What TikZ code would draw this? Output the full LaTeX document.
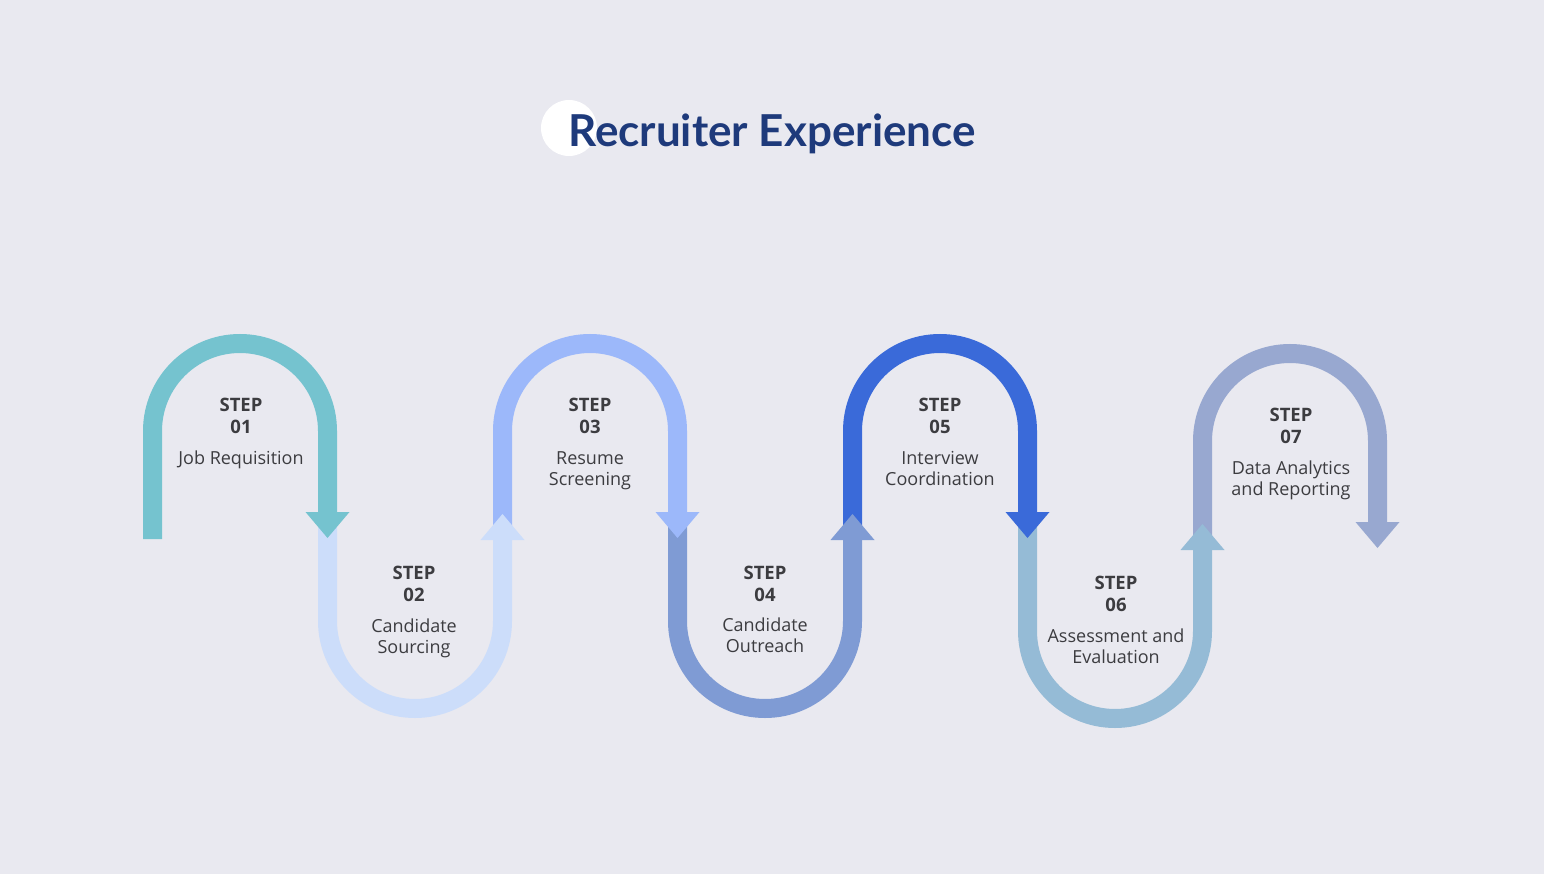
\documentclass[tikz,border=0pt]{standalone}
\usepackage{fontspec}
\setmainfont{Open Sans}
\newfontfamily\titlefont{Lato}
\definecolor{bg}{HTML}{E9E9F0}
\definecolor{titlecol}{HTML}{1E3A7B}
\definecolor{txt}{HTML}{3C3C40}
\definecolor{cA}{HTML}{75C3CF}
\definecolor{cB}{HTML}{CCDDFA}
\definecolor{cC}{HTML}{9CB8FA}
\definecolor{cD}{HTML}{7F9BD4}
\definecolor{cE}{HTML}{3A6AD9}
\definecolor{cF}{HTML}{95BBD6}
\definecolor{cG}{HTML}{98A8D0}
\tikzset{
  band/.style={line width=19pt, line cap=butt},
  steplabel/.style={text=txt, align=center, font=\fontsize{18.5}{21.5}\selectfont\bfseries, inner sep=0pt},
  desclabel/.style={text=txt, align=center, font=\fontsize{18}{21}\selectfont, inner sep=0pt},
}
\begin{document}
\begin{tikzpicture}[x=1pt,y=1pt]
\path[use as bounding box, fill=bg] (0,0) rectangle (1544,-874);
% title
\fill[white] (569,-128) circle[radius=28];
\node[text=titlecol, font=\titlefont\fontsize{44}{52}\selectfont\bfseries, anchor=base, inner sep=0pt] (title) at (772,-147) {Recruiter Experience};
% bands
\draw[band, cA] (152.5,-539) -- (152.5,-431) arc[start angle=180,end angle=0,radius=87.5] -- (327.5,-512);
\draw[band, cB] (327.5,-525) -- (327.5,-621) arc[start angle=180,end angle=360,radius=87.5] -- (502.5,-540);
\draw[band, cC] (502.5,-527) -- (502.5,-431) arc[start angle=180,end angle=0,radius=87.5] -- (677.5,-512);
\draw[band, cD] (677.5,-525) -- (677.5,-621) arc[start angle=180,end angle=360,radius=87.5] -- (852.5,-540);
\draw[band, cE] (852.5,-527) -- (852.5,-431) arc[start angle=180,end angle=0,radius=87.5] -- (1027.5,-512);
\draw[band, cF] (1027.5,-525) -- (1027.5,-631) arc[start angle=180,end angle=360,radius=87.5] -- (1202.5,-550);
\draw[band, cG] (1202.5,-537) -- (1202.5,-441) arc[start angle=180,end angle=0,radius=87.5] -- (1377.5,-522);
% arrow heads
\fill[cA] (305.5,-512) -- (349.5,-512) -- (327.5,-538) -- cycle;
\fill[cB] (480.5,-540) -- (524.5,-540) -- (502.5,-514) -- cycle;
\fill[cC] (655.5,-512) -- (699.5,-512) -- (677.5,-538) -- cycle;
\fill[cD] (830.5,-540) -- (874.5,-540) -- (852.5,-514) -- cycle;
\fill[cE] (1005.5,-512) -- (1049.5,-512) -- (1027.5,-538) -- cycle;
\fill[cF] (1180.5,-550) -- (1224.5,-550) -- (1202.5,-524) -- cycle;
\fill[cG] (1355.5,-522) -- (1399.5,-522) -- (1377.5,-548) -- cycle;
% labels
\node[steplabel] (s1) at (241,-416) {STEP\\01};
\node[desclabel, anchor=north] (d1) at (241,-451) {Job Requisition};
\node[steplabel] (s2) at (414,-584) {STEP\\02};
\node[desclabel, anchor=north] (d2) at (414,-619) {Candidate\\Sourcing};
\node[steplabel] (s3) at (590,-416) {STEP\\03};
\node[desclabel, anchor=north] (d3) at (590,-451) {Resume\\Screening};
\node[steplabel] (s4) at (765,-584) {STEP\\04};
\node[desclabel, anchor=north] (d4) at (765,-618) {Candidate\\Outreach};
\node[steplabel] (s5) at (940,-416) {STEP\\05};
\node[desclabel, anchor=north] (d5) at (940,-451) {Interview\\Coordination};
\node[steplabel] (s6) at (1116,-594) {STEP\\06};
\node[desclabel, anchor=north] (d6) at (1116,-629) {Assessment and\\Evaluation};
\node[steplabel] (s7) at (1291,-426) {STEP\\07};
\node[desclabel, anchor=north] (d7) at (1291,-461) {Data Analytics\\and Reporting};
\end{tikzpicture}
\end{document}
